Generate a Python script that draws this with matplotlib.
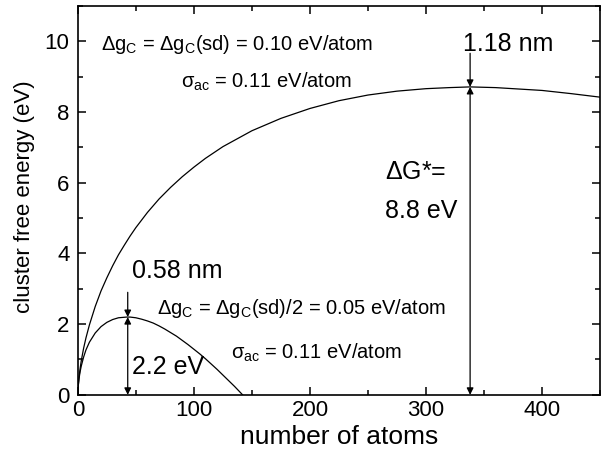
import matplotlib
matplotlib.use("Agg")
import matplotlib.pyplot as plt
from matplotlib.ticker import MultipleLocator

plt.rcParams["font.family"] = ["Liberation Sans", "DejaVu Sans"]
plt.rcParams["mathtext.fontset"] = "custom"
plt.rcParams["mathtext.rm"] = "Liberation Sans"
plt.rcParams["mathtext.it"] = "Liberation Sans"

# curve: dg_c = 0.10 eV/atom
n_big = [0, 0.2, 0.5, 1, 2, 3, 5, 7, 10, 15, 20, 25, 30, 35, 40, 45, 50, 60,
         70, 80, 90, 100, 110, 125, 150, 175, 200, 225, 250, 275, 300, 320,
         338, 360, 375, 400, 425, 450]
g_big = [0, 0.17, 0.31, 0.49, 0.75, 0.97, 1.32, 1.61, 1.98, 2.50, 2.94, 3.31,
         3.65, 3.96, 4.23, 4.49, 4.73, 5.16, 5.54, 5.87, 6.17, 6.44, 6.69,
         7.02, 7.47, 7.82, 8.10, 8.32, 8.48, 8.59, 8.66, 8.69, 8.71, 8.69,
         8.66, 8.61, 8.52, 8.42]

# curve: dg_c = 0.05 eV/atom
n_small = [0, 0.2, 0.5, 1, 1.5, 2, 3, 5, 7, 10, 15, 20, 25, 30, 35, 42, 45,
           50, 55, 60, 65, 70, 75, 80, 85, 90, 95, 100, 105, 110, 115, 120,
           125, 130, 135, 142]
g_small = [0, 0.17, 0.29, 0.44, 0.56, 0.66, 0.82, 1.07, 1.27, 1.49, 1.75,
           1.93, 2.05, 2.13, 2.18, 2.20, 2.20, 2.18, 2.14, 2.09, 2.03, 1.95,
           1.86, 1.76, 1.66, 1.54, 1.42, 1.29, 1.16, 1.02, 0.87, 0.72, 0.56,
           0.40, 0.24, 0.0]

peak_big = (338, 8.71)
peak_small = (43, 2.20)

fig = plt.figure(figsize=(6.08, 4.57), dpi=100)
ax = fig.add_axes([0.128, 0.136, 0.859, 0.851])

ax.plot(n_big, g_big, color="k", lw=0.9)
ax.plot(n_small, g_small, color="k", lw=0.9)

ax.set_xlim(0, 450)
ax.set_ylim(0, 11)
ax.xaxis.set_major_locator(MultipleLocator(100))
ax.xaxis.set_minor_locator(MultipleLocator(50))
ax.yaxis.set_major_locator(MultipleLocator(2))
ax.yaxis.set_minor_locator(MultipleLocator(1))
ax.tick_params(which="both", direction="in", top=True, right=True, width=1.1)
ax.tick_params(which="major", length=6, labelsize=16)
ax.tick_params(axis="y", which="major", pad=6)
ax.tick_params(which="minor", length=3.5)
for s in ax.spines.values():
    s.set_linewidth(1.2)

ax.set_xlabel("number of atoms", fontsize=19, labelpad=3)
ax.set_ylabel("cluster free energy (eV)", fontsize=16)
ax.yaxis.set_label_coords(-0.082, 0.509)

arr2 = dict(arrowstyle="<|-|>", color="k", lw=0.9, mutation_scale=10,
            shrinkA=0, shrinkB=0)
arr1 = dict(arrowstyle="-|>", color="k", lw=0.9, mutation_scale=10,
            shrinkA=0, shrinkB=0)

# big cluster
ax.annotate("", xy=(peak_big[0], 0), xytext=peak_big, arrowprops=arr2)
ax.annotate("", xy=peak_big, xytext=(peak_big[0], 9.66), arrowprops=arr1)
ax.text(371, 9.72, "1.18 nm", fontsize=18, ha="center", va="baseline")
ax.text(265, 6.3, r"$\Delta$G*=", fontsize=18, ha="left", va="center")
ax.text(265, 5.2, "8.8 eV", fontsize=18, ha="left", va="center")

# small cluster
ax.annotate("", xy=(peak_small[0], 0), xytext=peak_small, arrowprops=arr2)
ax.annotate("", xy=peak_small, xytext=(peak_small[0], 2.9), arrowprops=arr1)
ax.text(86, 3.5, "0.58 nm", fontsize=18, ha="center", va="center")
ax.text(47, 0.78, "2.2 eV", fontsize=18, ha="left", va="center")

ax.text(20, 9.9, r"$\Delta$g$_\mathrm{C}$ = $\Delta$g$_\mathrm{C}$(sd) = 0.10 eV/atom",
        fontsize=14.5, ha="left", va="center")
ax.text(89, 8.85, r"$\sigma_\mathrm{ac}$ = 0.11 eV/atom",
        fontsize=14.5, ha="left", va="center")
ax.text(68, 2.45, r"$\Delta$g$_\mathrm{C}$ = $\Delta$g$_\mathrm{C}$(sd)/2 = 0.05 eV/atom",
        fontsize=14.5, ha="left", va="center")
ax.text(132, 1.2, r"$\sigma_\mathrm{ac}$ = 0.11 eV/atom",
        fontsize=14.5, ha="left", va="center")

fig.savefig("out.png", dpi=100)
